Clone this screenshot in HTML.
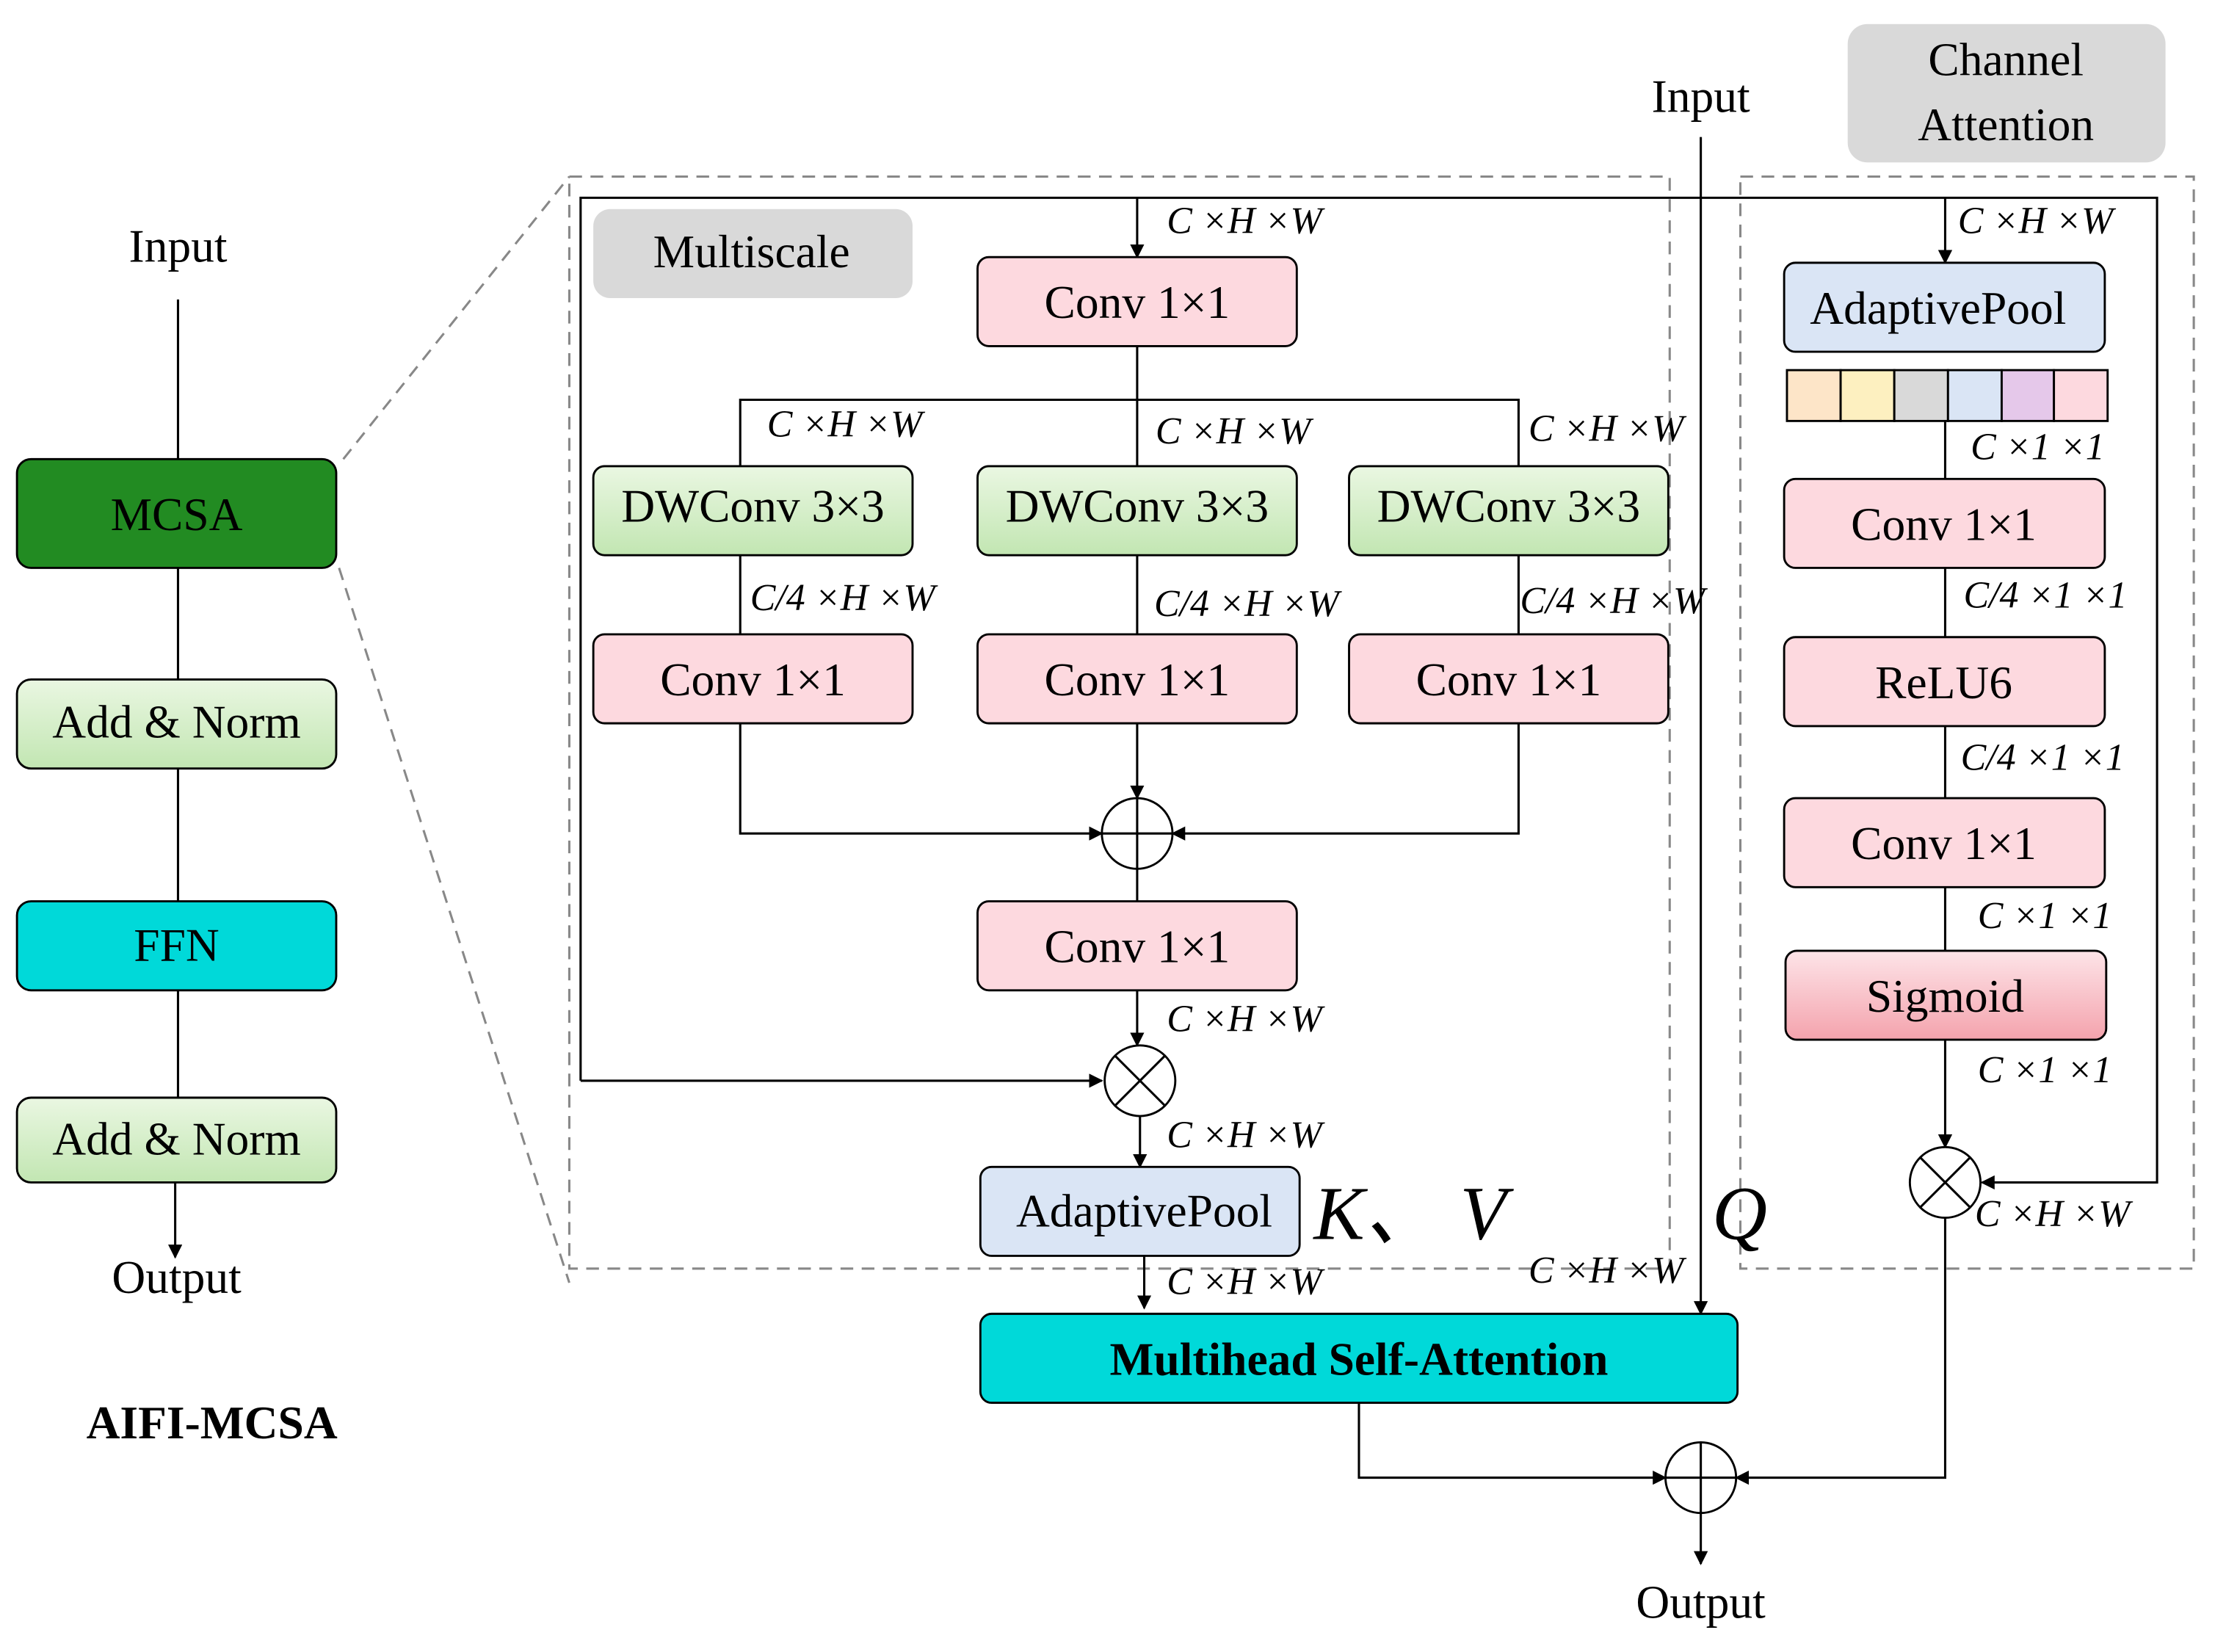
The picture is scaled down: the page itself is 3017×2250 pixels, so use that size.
<!DOCTYPE html>
<html><head><meta charset="utf-8"><style>html,body{margin:0;padding:0;background:#fff}svg{display:block}</style></head>
<body>
<svg width="3017" height="2250" viewBox="0 0 1568 1169.4" xmlns="http://www.w3.org/2000/svg" font-family="Liberation Serif, serif">
<defs>
<marker id="ar" markerWidth="10" markerHeight="10" refX="9" refY="5" orient="auto" markerUnits="userSpaceOnUse"><path d="M0,0 L10,5 L0,10 z" fill="#000"/></marker>
<linearGradient id="gg" x1="0" y1="0" x2="0" y2="1"><stop offset="0" stop-color="#eaf7e2"/><stop offset="1" stop-color="#c2e6b2"/></linearGradient>
<linearGradient id="pg" x1="0" y1="0" x2="0" y2="1"><stop offset="0" stop-color="#fde4e8"/><stop offset="1" stop-color="#f4a3ad"/></linearGradient>
</defs>
<style>
.b{stroke:#000;stroke-width:1.5}
.t{font-size:33px;text-anchor:middle;dominant-baseline:central}
.l{font-size:27px;font-style:italic}
.ln{stroke:#000;stroke-width:1.6;fill:none}
.d{stroke:#888;stroke-width:1.6;fill:none;stroke-dasharray:9,6}
</style>
<!-- left -->
<text x="126" y="174" class="t" font-size="38">Input</text>
<line x1="126" y1="212" x2="126" y2="325" class="ln"/>
<rect x="12" y="325" width="226" height="77" rx="10" fill="#228b22" class="b"/>
<text x="125" y="364" class="t">MCSA</text>
<line x1="126" y1="402" x2="126" y2="481" class="ln"/>
<rect x="12" y="481" width="226" height="63" rx="10" fill="url(#gg)" class="b"/>
<text x="125" y="511" class="t">Add &amp; Norm</text>
<line x1="126" y1="544" x2="126" y2="638" class="ln"/>
<rect x="12" y="638" width="226" height="63" rx="10" fill="#00d9d9" class="b"/>
<text x="125" y="669" class="t">FFN</text>
<line x1="126" y1="701" x2="126" y2="777" class="ln"/>
<rect x="12" y="777" width="226" height="60" rx="10" fill="url(#gg)" class="b"/>
<text x="125" y="806" class="t">Add &amp; Norm</text>
<line x1="124" y1="837" x2="124" y2="890" class="ln" marker-end="url(#ar)"/>
<text x="125" y="904" class="t" font-size="38">Output</text>
<text x="150" y="1007" class="t" font-size="38" font-weight="bold">AIFI-MCSA</text>
<line x1="243" y1="325" x2="403" y2="125" class="d"/>
<line x1="240" y1="402" x2="403" y2="908" class="d"/>
<rect x="403" y="125" width="779" height="773" class="d"/>
<rect x="1232" y="125" width="321" height="773" class="d"/>
<rect x="420" y="148" width="226" height="63" rx="12" fill="#d9d9d9"/>
<text x="532" y="178" class="t" font-size="38">Multiscale</text>
<rect x="1308" y="17" width="225" height="98" rx="14" fill="#d9d9d9"/>
<text x="1420" y="42" class="t" font-size="38">Channel</text>
<text x="1420" y="88" class="t" font-size="38">Attention</text>
<!-- top lines -->
<polyline points="411,765 411,140 1527,140 1527,837 1403,837" class="ln" marker-end="url(#ar)"/>
<line x1="411" y1="765" x2="780" y2="765" class="ln" marker-end="url(#ar)"/>
<line x1="805" y1="140" x2="805" y2="182" class="ln" marker-end="url(#ar)"/>
<line x1="1377" y1="140" x2="1377" y2="186" class="ln" marker-end="url(#ar)"/>
<text x="826" y="165" class="l">C ×H ×W</text>
<text x="1386" y="165" class="l">C ×H ×W</text>
<!-- multiscale -->
<rect x="692" y="182" width="226" height="63" rx="8" fill="#fdd9df" class="b"/>
<text x="805" y="214" class="t">Conv 1×1</text>
<line x1="805" y1="245" x2="805" y2="330" class="ln"/>
<polyline points="524,330 524,283 1075,283 1075,330" class="ln"/>
<text x="543" y="309" class="l">C ×H ×W</text>
<text x="818" y="314" class="l">C ×H ×W</text>
<text x="1082" y="312" class="l">C ×H ×W</text>
<g>
<rect x="420" y="330" width="226" height="63" rx="8" fill="url(#gg)" class="b"/>
<rect x="692" y="330" width="226" height="63" rx="8" fill="url(#gg)" class="b"/>
<rect x="955" y="330" width="226" height="63" rx="8" fill="url(#gg)" class="b"/>
<text x="533" y="358" class="t">DWConv 3×3</text>
<text x="805" y="358" class="t">DWConv 3×3</text>
<text x="1068" y="358" class="t">DWConv 3×3</text>
<line x1="524" y1="393" x2="524" y2="449" class="ln"/>
<line x1="805" y1="393" x2="805" y2="449" class="ln"/>
<line x1="1075" y1="393" x2="1075" y2="449" class="ln"/>
<text x="531" y="432" class="l">C/4 ×H ×W</text>
<text x="817" y="436" class="l">C/4 ×H ×W</text>
<text x="1076" y="434" class="l">C/4 ×H ×W</text>
<rect x="420" y="449" width="226" height="63" rx="8" fill="#fdd9df" class="b"/>
<rect x="692" y="449" width="226" height="63" rx="8" fill="#fdd9df" class="b"/>
<rect x="955" y="449" width="226" height="63" rx="8" fill="#fdd9df" class="b"/>
<text x="533" y="481" class="t">Conv 1×1</text>
<text x="805" y="481" class="t">Conv 1×1</text>
<text x="1068" y="481" class="t">Conv 1×1</text>
</g>
<polyline points="524,512 524,590 780,590" class="ln" marker-end="url(#ar)"/>
<polyline points="1075,512 1075,590 830,590" class="ln" marker-end="url(#ar)"/>
<line x1="805" y1="512" x2="805" y2="565" class="ln" marker-end="url(#ar)"/>
<circle cx="805" cy="590" r="25" fill="#fff" class="b"/>
<path d="M780,590 H830 M805,565 V615" class="ln"/>
<line x1="805" y1="615" x2="805" y2="638" class="ln"/>
<rect x="692" y="638" width="226" height="63" rx="8" fill="#fdd9df" class="b"/>
<text x="805" y="670" class="t">Conv 1×1</text>
<line x1="805" y1="701" x2="805" y2="740" class="ln" marker-end="url(#ar)"/>
<text x="826" y="730" class="l">C ×H ×W</text>
<circle cx="807" cy="765" r="25" fill="#fff" class="b"/>
<path d="M789,747 L825,783 M825,747 L789,783" class="ln"/>
<line x1="807" y1="790" x2="807" y2="826" class="ln" marker-end="url(#ar)"/>
<text x="826" y="812" class="l">C ×H ×W</text>
<rect x="694" y="826" width="226" height="63" rx="8" fill="#dae5f5" class="b"/>
<text x="810" y="857" class="t">AdaptivePool</text>
<line x1="810" y1="889" x2="810" y2="926" class="ln" marker-end="url(#ar)"/>
<text x="826" y="916" class="l">C ×H ×W</text>
<text x="930" y="877" font-size="54" font-style="italic">K、 V</text>
<text x="1212" y="877" font-size="54" font-style="italic">Q</text>
<text x="1082" y="908" class="l">C ×H ×W</text>
<text x="1204" y="68" class="t" font-size="40">Input</text>
<line x1="1204" y1="97" x2="1204" y2="930" class="ln" marker-end="url(#ar)"/>
<rect x="694" y="930" width="536" height="63" rx="8" fill="#00d9d9" class="b"/>
<text x="962" y="962" class="t" font-weight="bold" font-size="36">Multihead Self-Attention</text>
<polyline points="962,993 962,1046 1179,1046" class="ln" marker-end="url(#ar)"/>
<polyline points="1377,862 1377,1046 1229,1046" class="ln" marker-end="url(#ar)"/>
<circle cx="1204" cy="1046" r="25" fill="#fff" class="b"/>
<path d="M1179,1046 H1229 M1204,1021 V1071" class="ln"/>
<line x1="1204" y1="1071" x2="1204" y2="1107" class="ln" marker-end="url(#ar)"/>
<text x="1204" y="1134" class="t" font-size="38">Output</text>
<!-- channel -->
<rect x="1263" y="186" width="227" height="63" rx="8" fill="#dae5f5" class="b"/>
<text x="1372" y="218" class="t">AdaptivePool</text>
<g class="b">
<rect x="1265" y="262" width="38" height="36" fill="#fde5c8"/>
<rect x="1303" y="262" width="38" height="36" fill="#fdf0c0"/>
<rect x="1341" y="262" width="38" height="36" fill="#d9d9d9"/>
<rect x="1379" y="262" width="38" height="36" fill="#dae5f5"/>
<rect x="1417" y="262" width="37" height="36" fill="#e5c8ea"/>
<rect x="1454" y="262" width="38" height="36" fill="#fdd9df"/>
</g>
<line x1="1377" y1="298" x2="1377" y2="339" class="ln"/>
<text x="1395" y="325" class="l">C ×1 ×1</text>
<rect x="1263" y="339" width="227" height="63" rx="8" fill="#fdd9df" class="b"/>
<text x="1376" y="371" class="t">Conv 1×1</text>
<line x1="1377" y1="402" x2="1377" y2="451" class="ln"/>
<text x="1390" y="430" class="l">C/4 ×1 ×1</text>
<rect x="1263" y="451" width="227" height="63" rx="8" fill="#fdd9df" class="b"/>
<text x="1376" y="483" class="t">ReLU6</text>
<line x1="1377" y1="514" x2="1377" y2="565" class="ln"/>
<text x="1388" y="545" class="l">C/4 ×1 ×1</text>
<rect x="1263" y="565" width="227" height="63" rx="8" fill="#fdd9df" class="b"/>
<text x="1376" y="597" class="t">Conv 1×1</text>
<line x1="1377" y1="628" x2="1377" y2="673" class="ln"/>
<text x="1400" y="657" class="l">C ×1 ×1</text>
<rect x="1264" y="673" width="227" height="63" rx="8" fill="url(#pg)" class="b"/>
<text x="1377" y="705" class="t">Sigmoid</text>
<line x1="1377" y1="736" x2="1377" y2="812" class="ln" marker-end="url(#ar)"/>
<text x="1400" y="766" class="l">C ×1 ×1</text>
<circle cx="1377" cy="837" r="25" fill="#fff" class="b"/>
<path d="M1359,819 L1395,855 M1395,819 L1359,855" class="ln"/>
<text x="1398" y="868" class="l">C ×H ×W</text>
</svg>
</body></html>
